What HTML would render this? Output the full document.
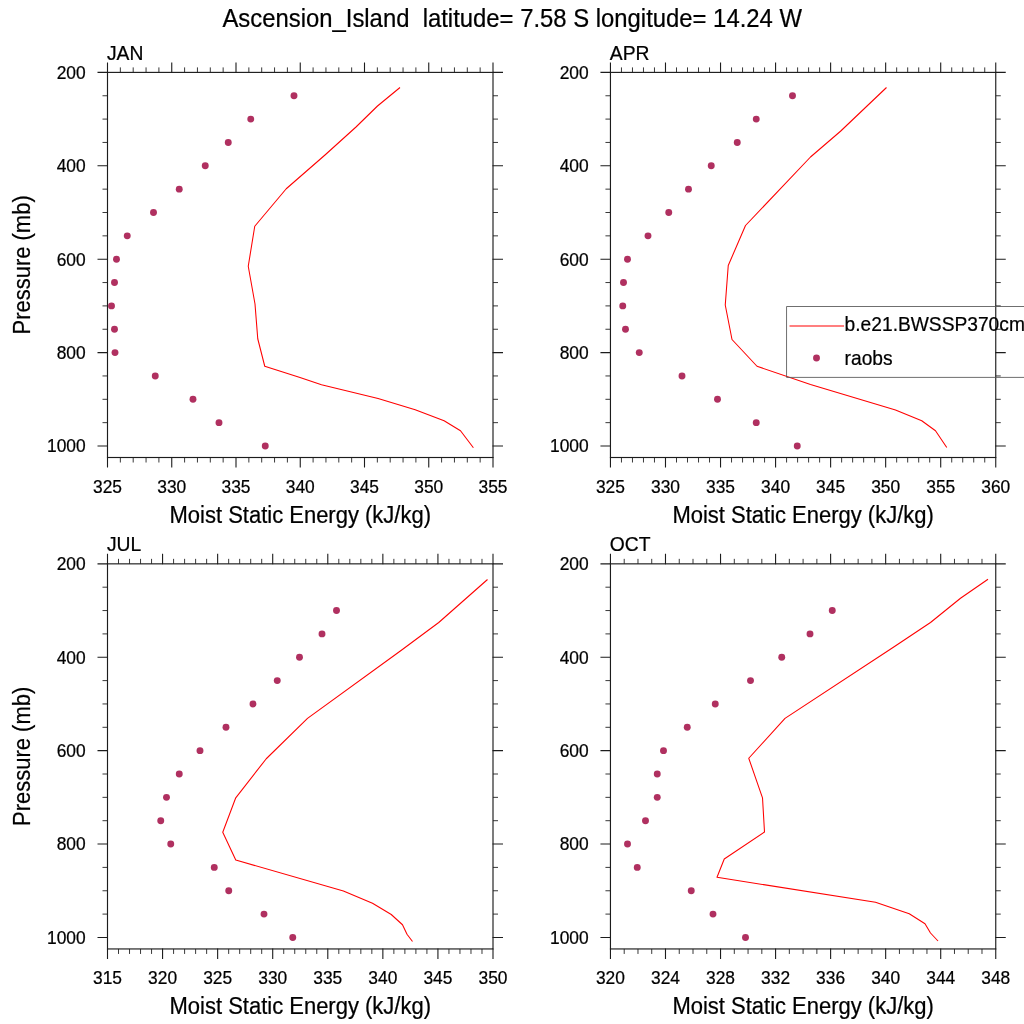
<!DOCTYPE html>
<html><head><meta charset="utf-8"><title>Ascension_Island MSE</title>
<style>
html,body{margin:0;padding:0;background:#fff;}
body{width:1024px;height:1024px;overflow:hidden;}
svg{display:block;font-family:"Liberation Sans",sans-serif;will-change:transform;filter:contrast(1);}
text{fill:#000;stroke:#000;stroke-width:0.22px;}
.fr{stroke:#1c1c1c;stroke-width:1.15;fill:none;stroke-linecap:butt;}
.tk{stroke:#1c1c1c;stroke-width:1.1;fill:none;}
.mn{stroke:#222;stroke-width:0.9;fill:none;}
.ln{stroke:#ff0000;stroke-width:1.06;fill:none;stroke-linejoin:round;}
.dot{fill:#b03060;}
.tl{font-size:17.4px;}
.xt{font-size:22px;}
.pt{font-size:19.3px;}
</style></head><body>
<svg width="1024" height="1024" viewBox="0 0 1024 1024">
<rect x="0" y="0" width="1024" height="1024" fill="#fff"/>
<text transform="translate(512.2 26.6) scale(1 1.07)" font-size="23.87" text-anchor="middle">Ascension_Island&#160; latitude= 7.58 S longitude= 14.24 W</text>
<g>
<text transform="translate(106.9 59.8) scale(1 1.07)" class="pt">JAN</text>
<text transform="translate(107.5 492.8) scale(1 1.07)" class="tl" text-anchor="middle">325</text>
<text transform="translate(171.75 492.8) scale(1 1.07)" class="tl" text-anchor="middle">330</text>
<text transform="translate(236 492.8) scale(1 1.07)" class="tl" text-anchor="middle">335</text>
<text transform="translate(300.25 492.8) scale(1 1.07)" class="tl" text-anchor="middle">340</text>
<text transform="translate(364.5 492.8) scale(1 1.07)" class="tl" text-anchor="middle">345</text>
<text transform="translate(428.75 492.8) scale(1 1.07)" class="tl" text-anchor="middle">350</text>
<text transform="translate(493 492.8) scale(1 1.07)" class="tl" text-anchor="middle">355</text>
<text transform="translate(85.7 78.7) scale(1 1.07)" class="tl" text-anchor="end">200</text>
<text transform="translate(85.7 172.1) scale(1 1.07)" class="tl" text-anchor="end">400</text>
<text transform="translate(85.7 265.5) scale(1 1.07)" class="tl" text-anchor="end">600</text>
<text transform="translate(85.7 358.9) scale(1 1.07)" class="tl" text-anchor="end">800</text>
<text transform="translate(85.7 452.3) scale(1 1.07)" class="tl" text-anchor="end">1000</text>
<path class="mn" d="M120.35 72.4V67.4M120.35 457.5V462.5M133.2 72.4V67.4M133.2 457.5V462.5M146.05 72.4V67.4M146.05 457.5V462.5M158.9 72.4V67.4M158.9 457.5V462.5M184.6 72.4V67.4M184.6 457.5V462.5M197.45 72.4V67.4M197.45 457.5V462.5M210.3 72.4V67.4M210.3 457.5V462.5M223.15 72.4V67.4M223.15 457.5V462.5M248.85 72.4V67.4M248.85 457.5V462.5M261.7 72.4V67.4M261.7 457.5V462.5M274.55 72.4V67.4M274.55 457.5V462.5M287.4 72.4V67.4M287.4 457.5V462.5M313.1 72.4V67.4M313.1 457.5V462.5M325.95 72.4V67.4M325.95 457.5V462.5M338.8 72.4V67.4M338.8 457.5V462.5M351.65 72.4V67.4M351.65 457.5V462.5M377.35 72.4V67.4M377.35 457.5V462.5M390.2 72.4V67.4M390.2 457.5V462.5M403.05 72.4V67.4M403.05 457.5V462.5M415.9 72.4V67.4M415.9 457.5V462.5M441.6 72.4V67.4M441.6 457.5V462.5M454.45 72.4V67.4M454.45 457.5V462.5M467.3 72.4V67.4M467.3 457.5V462.5M480.15 72.4V67.4M480.15 457.5V462.5M107.5 95.75H102.5M493 95.75H498M107.5 119.1H102.5M493 119.1H498M107.5 142.45H102.5M493 142.45H498M107.5 189.15H102.5M493 189.15H498M107.5 212.5H102.5M493 212.5H498M107.5 235.85H102.5M493 235.85H498M107.5 282.55H102.5M493 282.55H498M107.5 305.9H102.5M493 305.9H498M107.5 329.25H102.5M493 329.25H498M107.5 375.95H102.5M493 375.95H498M107.5 399.3H102.5M493 399.3H498M107.5 422.65H102.5M493 422.65H498"/>
<path class="tk" d="M107.5 72.9V62.4M107.5 457V467.5M171.75 72.9V62.4M171.75 457V467.5M236 72.9V62.4M236 457V467.5M300.25 72.9V62.4M300.25 457V467.5M364.5 72.9V62.4M364.5 457V467.5M428.75 72.9V62.4M428.75 457V467.5M493 72.9V62.4M493 457V467.5M108 72.4H97.5M492.5 72.4H503M108 165.8H97.5M492.5 165.8H503M108 259.2H97.5M492.5 259.2H503M108 352.6H97.5M492.5 352.6H503M108 446H97.5M492.5 446H503"/>
<rect class="fr" x="107.5" y="72.4" width="385.5" height="385.1"/>
<polyline class="ln" points="400,87.5 377.5,106 356,127 325,155 286.25,188.75 254.75,226.25 248.25,266.25 255,304 257.75,338.75 264.75,366.25 300,377.5 321.5,384.7 378.1,398.4 415.2,409.7 444.1,420.8 460.5,430.8 473.4,447.8"/>
<circle class="dot" cx="294" cy="95.75" r="3.45"/>
<circle class="dot" cx="250.75" cy="119.1" r="3.45"/>
<circle class="dot" cx="228.25" cy="142.45" r="3.45"/>
<circle class="dot" cx="205.25" cy="165.8" r="3.45"/>
<circle class="dot" cx="179.25" cy="189.15" r="3.45"/>
<circle class="dot" cx="153.5" cy="212.5" r="3.45"/>
<circle class="dot" cx="127.25" cy="235.85" r="3.45"/>
<circle class="dot" cx="116.5" cy="259.2" r="3.45"/>
<circle class="dot" cx="114.5" cy="282.55" r="3.45"/>
<circle class="dot" cx="111.5" cy="305.9" r="3.45"/>
<circle class="dot" cx="114.5" cy="329.25" r="3.45"/>
<circle class="dot" cx="115" cy="352.6" r="3.45"/>
<circle class="dot" cx="155.25" cy="375.95" r="3.45"/>
<circle class="dot" cx="193" cy="399.3" r="3.45"/>
<circle class="dot" cx="219" cy="422.65" r="3.45"/>
<circle class="dot" cx="265.25" cy="446" r="3.45"/>
<text transform="translate(300.25 522.9) scale(1 1.07)" class="xt" text-anchor="middle">Moist Static Energy (kJ/kg)</text>
<text transform="translate(30 264.9) rotate(-90) scale(1 1.07)" class="xt" text-anchor="middle">Pressure (mb)</text>
</g>
<g>
<text transform="translate(609.85 59.8) scale(1 1.07)" class="pt">APR</text>
<text transform="translate(610.45 492.8) scale(1 1.07)" class="tl" text-anchor="middle">325</text>
<text transform="translate(665.49 492.8) scale(1 1.07)" class="tl" text-anchor="middle">330</text>
<text transform="translate(720.54 492.8) scale(1 1.07)" class="tl" text-anchor="middle">335</text>
<text transform="translate(775.58 492.8) scale(1 1.07)" class="tl" text-anchor="middle">340</text>
<text transform="translate(830.62 492.8) scale(1 1.07)" class="tl" text-anchor="middle">345</text>
<text transform="translate(885.66 492.8) scale(1 1.07)" class="tl" text-anchor="middle">350</text>
<text transform="translate(940.71 492.8) scale(1 1.07)" class="tl" text-anchor="middle">355</text>
<text transform="translate(995.75 492.8) scale(1 1.07)" class="tl" text-anchor="middle">360</text>
<text transform="translate(588.65 78.7) scale(1 1.07)" class="tl" text-anchor="end">200</text>
<text transform="translate(588.65 172.1) scale(1 1.07)" class="tl" text-anchor="end">400</text>
<text transform="translate(588.65 265.5) scale(1 1.07)" class="tl" text-anchor="end">600</text>
<text transform="translate(588.65 358.9) scale(1 1.07)" class="tl" text-anchor="end">800</text>
<text transform="translate(588.65 452.3) scale(1 1.07)" class="tl" text-anchor="end">1000</text>
<path class="mn" d="M621.46 72.4V67.4M621.46 457.5V462.5M632.47 72.4V67.4M632.47 457.5V462.5M643.48 72.4V67.4M643.48 457.5V462.5M654.48 72.4V67.4M654.48 457.5V462.5M676.5 72.4V67.4M676.5 457.5V462.5M687.51 72.4V67.4M687.51 457.5V462.5M698.52 72.4V67.4M698.52 457.5V462.5M709.53 72.4V67.4M709.53 457.5V462.5M731.54 72.4V67.4M731.54 457.5V462.5M742.55 72.4V67.4M742.55 457.5V462.5M753.56 72.4V67.4M753.56 457.5V462.5M764.57 72.4V67.4M764.57 457.5V462.5M786.59 72.4V67.4M786.59 457.5V462.5M797.6 72.4V67.4M797.6 457.5V462.5M808.6 72.4V67.4M808.6 457.5V462.5M819.61 72.4V67.4M819.61 457.5V462.5M841.63 72.4V67.4M841.63 457.5V462.5M852.64 72.4V67.4M852.64 457.5V462.5M863.65 72.4V67.4M863.65 457.5V462.5M874.66 72.4V67.4M874.66 457.5V462.5M896.67 72.4V67.4M896.67 457.5V462.5M907.68 72.4V67.4M907.68 457.5V462.5M918.69 72.4V67.4M918.69 457.5V462.5M929.7 72.4V67.4M929.7 457.5V462.5M951.72 72.4V67.4M951.72 457.5V462.5M962.72 72.4V67.4M962.72 457.5V462.5M973.73 72.4V67.4M973.73 457.5V462.5M984.74 72.4V67.4M984.74 457.5V462.5M610.45 95.75H605.45M995.75 95.75H1000.75M610.45 119.1H605.45M995.75 119.1H1000.75M610.45 142.45H605.45M995.75 142.45H1000.75M610.45 189.15H605.45M995.75 189.15H1000.75M610.45 212.5H605.45M995.75 212.5H1000.75M610.45 235.85H605.45M995.75 235.85H1000.75M610.45 282.55H605.45M995.75 282.55H1000.75M610.45 305.9H605.45M995.75 305.9H1000.75M610.45 329.25H605.45M995.75 329.25H1000.75M610.45 375.95H605.45M995.75 375.95H1000.75M610.45 399.3H605.45M995.75 399.3H1000.75M610.45 422.65H605.45M995.75 422.65H1000.75"/>
<path class="tk" d="M610.45 72.9V62.4M610.45 457V467.5M665.49 72.9V62.4M665.49 457V467.5M720.54 72.9V62.4M720.54 457V467.5M775.58 72.9V62.4M775.58 457V467.5M830.62 72.9V62.4M830.62 457V467.5M885.66 72.9V62.4M885.66 457V467.5M940.71 72.9V62.4M940.71 457V467.5M995.75 72.9V62.4M995.75 457V467.5M610.95 72.4H600.45M995.25 72.4H1005.75M610.95 165.8H600.45M995.25 165.8H1005.75M610.95 259.2H600.45M995.25 259.2H1005.75M610.95 352.6H600.45M995.25 352.6H1005.75M610.95 446H600.45M995.25 446H1005.75"/>
<rect class="fr" x="610.45" y="72.4" width="385.3" height="385.1"/>
<polyline class="ln" points="886.5,87.5 840.5,131.25 810.5,157 745.5,225.5 728.25,265.5 725.25,305 732,339.5 757,366.25 810.5,384.5 895.5,410 921.75,420.75 935.5,430.75 946.75,447.5"/>
<circle class="dot" cx="792.5" cy="95.75" r="3.45"/>
<circle class="dot" cx="756.25" cy="119.1" r="3.45"/>
<circle class="dot" cx="737.25" cy="142.45" r="3.45"/>
<circle class="dot" cx="711.25" cy="165.8" r="3.45"/>
<circle class="dot" cx="688.5" cy="189.15" r="3.45"/>
<circle class="dot" cx="668.75" cy="212.5" r="3.45"/>
<circle class="dot" cx="648" cy="235.85" r="3.45"/>
<circle class="dot" cx="627.5" cy="259.2" r="3.45"/>
<circle class="dot" cx="623.5" cy="282.55" r="3.45"/>
<circle class="dot" cx="622.75" cy="305.9" r="3.45"/>
<circle class="dot" cx="625.5" cy="329.25" r="3.45"/>
<circle class="dot" cx="639.25" cy="352.6" r="3.45"/>
<circle class="dot" cx="682" cy="375.95" r="3.45"/>
<circle class="dot" cx="717.5" cy="399.3" r="3.45"/>
<circle class="dot" cx="756.25" cy="422.65" r="3.45"/>
<circle class="dot" cx="797.25" cy="446" r="3.45"/>
<text transform="translate(803.1 522.9) scale(1 1.07)" class="xt" text-anchor="middle">Moist Static Energy (kJ/kg)</text>
</g>
<g>
<text transform="translate(106.9 551.25) scale(1 1.07)" class="pt">JUL</text>
<text transform="translate(107.5 984.25) scale(1 1.07)" class="tl" text-anchor="middle">315</text>
<text transform="translate(162.57 984.25) scale(1 1.07)" class="tl" text-anchor="middle">320</text>
<text transform="translate(217.64 984.25) scale(1 1.07)" class="tl" text-anchor="middle">325</text>
<text transform="translate(272.71 984.25) scale(1 1.07)" class="tl" text-anchor="middle">330</text>
<text transform="translate(327.79 984.25) scale(1 1.07)" class="tl" text-anchor="middle">335</text>
<text transform="translate(382.86 984.25) scale(1 1.07)" class="tl" text-anchor="middle">340</text>
<text transform="translate(437.93 984.25) scale(1 1.07)" class="tl" text-anchor="middle">345</text>
<text transform="translate(493 984.25) scale(1 1.07)" class="tl" text-anchor="middle">350</text>
<text transform="translate(85.7 570.15) scale(1 1.07)" class="tl" text-anchor="end">200</text>
<text transform="translate(85.7 663.55) scale(1 1.07)" class="tl" text-anchor="end">400</text>
<text transform="translate(85.7 756.95) scale(1 1.07)" class="tl" text-anchor="end">600</text>
<text transform="translate(85.7 850.35) scale(1 1.07)" class="tl" text-anchor="end">800</text>
<text transform="translate(85.7 943.75) scale(1 1.07)" class="tl" text-anchor="end">1000</text>
<path class="mn" d="M118.51 563.85V558.85M118.51 948.95V953.95M129.53 563.85V558.85M129.53 948.95V953.95M140.54 563.85V558.85M140.54 948.95V953.95M151.56 563.85V558.85M151.56 948.95V953.95M173.59 563.85V558.85M173.59 948.95V953.95M184.6 563.85V558.85M184.6 948.95V953.95M195.61 563.85V558.85M195.61 948.95V953.95M206.63 563.85V558.85M206.63 948.95V953.95M228.66 563.85V558.85M228.66 948.95V953.95M239.67 563.85V558.85M239.67 948.95V953.95M250.69 563.85V558.85M250.69 948.95V953.95M261.7 563.85V558.85M261.7 948.95V953.95M283.73 563.85V558.85M283.73 948.95V953.95M294.74 563.85V558.85M294.74 948.95V953.95M305.76 563.85V558.85M305.76 948.95V953.95M316.77 563.85V558.85M316.77 948.95V953.95M338.8 563.85V558.85M338.8 948.95V953.95M349.81 563.85V558.85M349.81 948.95V953.95M360.83 563.85V558.85M360.83 948.95V953.95M371.84 563.85V558.85M371.84 948.95V953.95M393.87 563.85V558.85M393.87 948.95V953.95M404.89 563.85V558.85M404.89 948.95V953.95M415.9 563.85V558.85M415.9 948.95V953.95M426.91 563.85V558.85M426.91 948.95V953.95M448.94 563.85V558.85M448.94 948.95V953.95M459.96 563.85V558.85M459.96 948.95V953.95M470.97 563.85V558.85M470.97 948.95V953.95M481.99 563.85V558.85M481.99 948.95V953.95M107.5 587.2H102.5M493 587.2H498M107.5 610.55H102.5M493 610.55H498M107.5 633.9H102.5M493 633.9H498M107.5 680.6H102.5M493 680.6H498M107.5 703.95H102.5M493 703.95H498M107.5 727.3H102.5M493 727.3H498M107.5 774H102.5M493 774H498M107.5 797.35H102.5M493 797.35H498M107.5 820.7H102.5M493 820.7H498M107.5 867.4H102.5M493 867.4H498M107.5 890.75H102.5M493 890.75H498M107.5 914.1H102.5M493 914.1H498"/>
<path class="tk" d="M107.5 564.35V553.85M107.5 948.45V958.95M162.57 564.35V553.85M162.57 948.45V958.95M217.64 564.35V553.85M217.64 948.45V958.95M272.71 564.35V553.85M272.71 948.45V958.95M327.79 564.35V553.85M327.79 948.45V958.95M382.86 564.35V553.85M382.86 948.45V958.95M437.93 564.35V553.85M437.93 948.45V958.95M493 564.35V553.85M493 948.45V958.95M108 563.85H97.5M492.5 563.85H503M108 657.25H97.5M492.5 657.25H503M108 750.65H97.5M492.5 750.65H503M108 844.05H97.5M492.5 844.05H503M108 937.45H97.5M492.5 937.45H503"/>
<rect class="fr" x="107.5" y="563.85" width="385.5" height="385.1"/>
<polyline class="ln" points="487.5,579.5 438.75,622.5 400,651.25 307.5,718.4 266.25,758.75 235.75,797.8 222.75,832.25 235.75,860 343.4,891 372.5,903.25 391.25,914.5 402.5,924.75 407,934.25 412.5,941.5"/>
<circle class="dot" cx="336.5" cy="610.55" r="3.45"/>
<circle class="dot" cx="322" cy="633.9" r="3.45"/>
<circle class="dot" cx="299.5" cy="657.25" r="3.45"/>
<circle class="dot" cx="277.25" cy="680.6" r="3.45"/>
<circle class="dot" cx="253" cy="703.95" r="3.45"/>
<circle class="dot" cx="226" cy="727.3" r="3.45"/>
<circle class="dot" cx="200" cy="750.65" r="3.45"/>
<circle class="dot" cx="179.25" cy="774" r="3.45"/>
<circle class="dot" cx="166.5" cy="797.35" r="3.45"/>
<circle class="dot" cx="160.75" cy="820.7" r="3.45"/>
<circle class="dot" cx="170.75" cy="844.05" r="3.45"/>
<circle class="dot" cx="214.25" cy="867.4" r="3.45"/>
<circle class="dot" cx="228.75" cy="890.75" r="3.45"/>
<circle class="dot" cx="264" cy="914.1" r="3.45"/>
<circle class="dot" cx="292.75" cy="937.45" r="3.45"/>
<text transform="translate(300.25 1014.35) scale(1 1.07)" class="xt" text-anchor="middle">Moist Static Energy (kJ/kg)</text>
<text transform="translate(30 756.35) rotate(-90) scale(1 1.07)" class="xt" text-anchor="middle">Pressure (mb)</text>
</g>
<g>
<text transform="translate(609.85 551.25) scale(1 1.07)" class="pt">OCT</text>
<text transform="translate(610.45 984.25) scale(1 1.07)" class="tl" text-anchor="middle">320</text>
<text transform="translate(665.49 984.25) scale(1 1.07)" class="tl" text-anchor="middle">324</text>
<text transform="translate(720.54 984.25) scale(1 1.07)" class="tl" text-anchor="middle">328</text>
<text transform="translate(775.58 984.25) scale(1 1.07)" class="tl" text-anchor="middle">332</text>
<text transform="translate(830.62 984.25) scale(1 1.07)" class="tl" text-anchor="middle">336</text>
<text transform="translate(885.66 984.25) scale(1 1.07)" class="tl" text-anchor="middle">340</text>
<text transform="translate(940.71 984.25) scale(1 1.07)" class="tl" text-anchor="middle">344</text>
<text transform="translate(995.75 984.25) scale(1 1.07)" class="tl" text-anchor="middle">348</text>
<text transform="translate(588.65 570.15) scale(1 1.07)" class="tl" text-anchor="end">200</text>
<text transform="translate(588.65 663.55) scale(1 1.07)" class="tl" text-anchor="end">400</text>
<text transform="translate(588.65 756.95) scale(1 1.07)" class="tl" text-anchor="end">600</text>
<text transform="translate(588.65 850.35) scale(1 1.07)" class="tl" text-anchor="end">800</text>
<text transform="translate(588.65 943.75) scale(1 1.07)" class="tl" text-anchor="end">1000</text>
<path class="mn" d="M624.21 563.85V558.85M624.21 948.95V953.95M637.97 563.85V558.85M637.97 948.95V953.95M651.73 563.85V558.85M651.73 948.95V953.95M679.25 563.85V558.85M679.25 948.95V953.95M693.01 563.85V558.85M693.01 948.95V953.95M706.78 563.85V558.85M706.78 948.95V953.95M734.3 563.85V558.85M734.3 948.95V953.95M748.06 563.85V558.85M748.06 948.95V953.95M761.82 563.85V558.85M761.82 948.95V953.95M789.34 563.85V558.85M789.34 948.95V953.95M803.1 563.85V558.85M803.1 948.95V953.95M816.86 563.85V558.85M816.86 948.95V953.95M844.38 563.85V558.85M844.38 948.95V953.95M858.14 563.85V558.85M858.14 948.95V953.95M871.9 563.85V558.85M871.9 948.95V953.95M899.43 563.85V558.85M899.43 948.95V953.95M913.19 563.85V558.85M913.19 948.95V953.95M926.95 563.85V558.85M926.95 948.95V953.95M954.47 563.85V558.85M954.47 948.95V953.95M968.23 563.85V558.85M968.23 948.95V953.95M981.99 563.85V558.85M981.99 948.95V953.95M610.45 587.2H605.45M995.75 587.2H1000.75M610.45 610.55H605.45M995.75 610.55H1000.75M610.45 633.9H605.45M995.75 633.9H1000.75M610.45 680.6H605.45M995.75 680.6H1000.75M610.45 703.95H605.45M995.75 703.95H1000.75M610.45 727.3H605.45M995.75 727.3H1000.75M610.45 774H605.45M995.75 774H1000.75M610.45 797.35H605.45M995.75 797.35H1000.75M610.45 820.7H605.45M995.75 820.7H1000.75M610.45 867.4H605.45M995.75 867.4H1000.75M610.45 890.75H605.45M995.75 890.75H1000.75M610.45 914.1H605.45M995.75 914.1H1000.75"/>
<path class="tk" d="M610.45 564.35V553.85M610.45 948.45V958.95M665.49 564.35V553.85M665.49 948.45V958.95M720.54 564.35V553.85M720.54 948.45V958.95M775.58 564.35V553.85M775.58 948.45V958.95M830.62 564.35V553.85M830.62 948.45V958.95M885.66 564.35V553.85M885.66 948.45V958.95M940.71 564.35V553.85M940.71 948.45V958.95M995.75 564.35V553.85M995.75 948.45V958.95M610.95 563.85H600.45M995.25 563.85H1005.75M610.95 657.25H600.45M995.25 657.25H1005.75M610.95 750.65H600.45M995.25 750.65H1005.75M610.95 844.05H600.45M995.25 844.05H1005.75M610.95 937.45H600.45M995.25 937.45H1005.75"/>
<rect class="fr" x="610.45" y="563.85" width="385.3" height="385.1"/>
<polyline class="ln" points="988,579.25 960.5,598.25 930.5,622.5 893,647.5 785,718.4 748.75,758.25 762.5,797.8 764.5,832 724.25,859 717,877.25 875.5,902.25 909.25,913.75 925,923.75 930.5,933 938,941"/>
<circle class="dot" cx="832.25" cy="610.55" r="3.45"/>
<circle class="dot" cx="810" cy="633.9" r="3.45"/>
<circle class="dot" cx="781.75" cy="657.25" r="3.45"/>
<circle class="dot" cx="750.5" cy="680.6" r="3.45"/>
<circle class="dot" cx="715.25" cy="703.95" r="3.45"/>
<circle class="dot" cx="687.25" cy="727.3" r="3.45"/>
<circle class="dot" cx="663.5" cy="750.65" r="3.45"/>
<circle class="dot" cx="657.25" cy="774" r="3.45"/>
<circle class="dot" cx="657.25" cy="797.35" r="3.45"/>
<circle class="dot" cx="645.5" cy="820.7" r="3.45"/>
<circle class="dot" cx="627.5" cy="844.05" r="3.45"/>
<circle class="dot" cx="637.25" cy="867.4" r="3.45"/>
<circle class="dot" cx="691.25" cy="890.75" r="3.45"/>
<circle class="dot" cx="713" cy="914.1" r="3.45"/>
<circle class="dot" cx="745.5" cy="937.45" r="3.45"/>
<text transform="translate(803.1 1014.35) scale(1 1.07)" class="xt" text-anchor="middle">Moist Static Energy (kJ/kg)</text>
</g>
<g>
<path d="M1030 306.5H786.55V377.4H1030" fill="none" stroke="#555" stroke-width="0.85"/>
<path d="M789.5 326H844" stroke="#ff0000" stroke-width="1.2" fill="none"/>
<circle class="dot" cx="816.5" cy="358" r="3.45"/>
<text transform="translate(844.6 331.4) scale(1 1.07)" font-size="19.2">b.e21.BWSSP370cmip6.f09_g17</text>
<text transform="translate(844.6 364.7) scale(1 1.07)" font-size="19.2">raobs</text>
</g>
</svg>
</body></html>
